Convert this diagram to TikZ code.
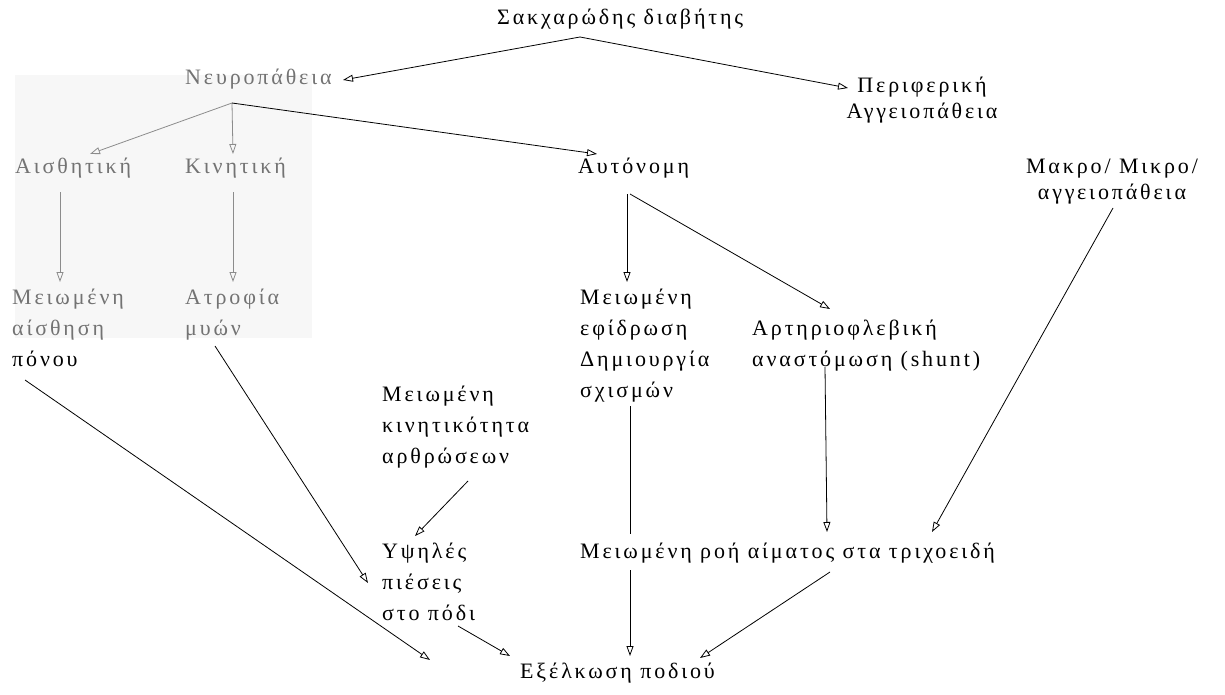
\documentclass[tikz,border=0pt]{standalone}
\usepackage{fontspec}
\setmainfont{Liberation Serif}[LetterSpace=13]
\usetikzlibrary{arrows.meta,calc}

\newcommand{\leftstack}[1]{\begin{tabular}[t]{@{}l@{}}#1\end{tabular}}
\newcommand{\midstack}[1]{\begin{tabular}[t]{@{}c@{}}#1\end{tabular}}

\tikzset{
  txt/.style = {anchor=base west, inner sep=0pt, font=\fontsize{22}{31}\selectfont},
  ctxt/.style = {txt, anchor=base},
  arr/.style = {-{Triangle[open,length=10pt,width=7pt]}, line width=0.8pt},
  pale/.style = {text=black!55},
  palearr/.style = {arr, draw=black!45},
}

\begin{document}
\begin{tikzpicture}[x=1pt, y=-1pt]
    % Define dimensions
    \useasboundingbox (0,0) rectangle (1225,695);
    \fill[gray!6] (15,75) rectangle (312,338);

    %Top level
    \node[txt] (diab) at (497,25) {Σακχαρώδης διαβήτης};
    \node[txt, pale] (neuro) at (185,85) {Νευροπάθεια};
    \node[ctxt] (periph) at (922,93) {\midstack{Περιφερική\\[-5pt]Αγγειοπάθεια}};

    %Second row
    \node[txt, pale] (aisth) at (15,174) {Αισθητική};
    \node[txt, pale] (kin) at (185,174) {Κινητική};
    \node[txt] (auto) at (578,174) {Αυτόνομη};
    \node[ctxt] (makro) at (1112,174) {\midstack{Μακρο/ Μικρο/\\[-5pt]αγγειοπάθεια}};

    %Third row
    \node[txt] (meiais) at (12,304) {\leftstack{\textcolor{black!55}{Μειωμένη}\\\textcolor{black!55}{αίσθηση}\\πόνου}};
    \node[txt, pale] (atrof) at (185,304) {\leftstack{Ατροφία\\μυών}};
    \node[txt] (meief) at (580,304) {\leftstack{Μειωμένη\\εφίδρωση\\Δημιουργία\\σχισμών}};
    \node[txt] (artir) at (752,335) {\leftstack{Αρτηριοφλεβική\\αναστόμωση (shunt)}};

    %Lower rows
    \node[txt] (kinit) at (382,401) {\leftstack{Μειωμένη\\κινητικότητα\\αρθρώσεων}};
    \node[txt] (ypsil) at (382,558) {\leftstack{Υψηλές\\πιέσεις\\στο πόδι}};
    \node[txt] (roi) at (580,558) {Μειωμένη ροή αίματος στα τριχοειδή};
    \node[txt] (exelk) at (520,678) {Εξέλκωση ποδιού};

    %Arrows from the top
    \draw[arr] ($(diab.base west)+(83,12)$) -- ($(neuro.base west)+(158,-5)$);
    \draw[arr] ($(diab.base west)+(83,12)$) -- ($(periph.base)+(-74,-5)$);
    \draw[palearr] ($(neuro.base west)+(47,18)$) -- ($(aisth.base west)+(75,-20)$);
    \draw[palearr] ($(neuro.base west)+(47,18)$) -- ($(kin.base west)+(48,-20)$);
    \draw[arr] ($(neuro.base west)+(47,18)$) -- ($(auto.base west)+(19,-20)$);

    %Arrows to the third row
    \draw[palearr] ($(aisth.base west)+(45,18)$) -- ($(meiais.base west)+(48,-22)$);
    \draw[palearr] ($(kin.base west)+(48,18)$) -- ($(atrof.base west)+(48,-22)$);
    \draw[arr] ($(auto.base west)+(49,20)$) -- ($(meief.base west)+(47,-22)$);
    \draw[arr] ($(auto.base west)+(52,20)$) -- ($(artir.base west)+(78,-26)$);
    \draw[arr] ($(makro.base)+(1,34)$) -- ($(roi.base west)+(352,-26)$);

    %Arrows to the ulcer
    \draw[arr] ($(meiais.base west)+(13,76)$) -- ($(exelk.base west)+(-90,-18)$);
    \draw[arr] ($(atrof.base west)+(30,42)$) -- ($(ypsil.base west)+(-14,25)$);
    \draw[arr] ($(kinit.base west)+(86,80)$) -- ($(ypsil.base west)+(33,-22)$);
    \draw[arr] ($(ypsil.base west)+(76,68)$) -- ($(exelk.base west)+(-10,-22)$);
    \draw ($(meief.base west)+(50,102)$) -- ($(roi.base west)+(50,-24)$);
    \draw[arr] ($(roi.base west)+(50,12)$) -- ($(exelk.base west)+(110,-22)$);
    \draw[arr] ($(artir.base west)+(73,32)$) -- ($(roi.base west)+(247,-26)$);
    \draw[arr] ($(roi.base west)+(250,14)$) -- ($(exelk.base west)+(180,-20)$);

\end{tikzpicture}
\end{document}
